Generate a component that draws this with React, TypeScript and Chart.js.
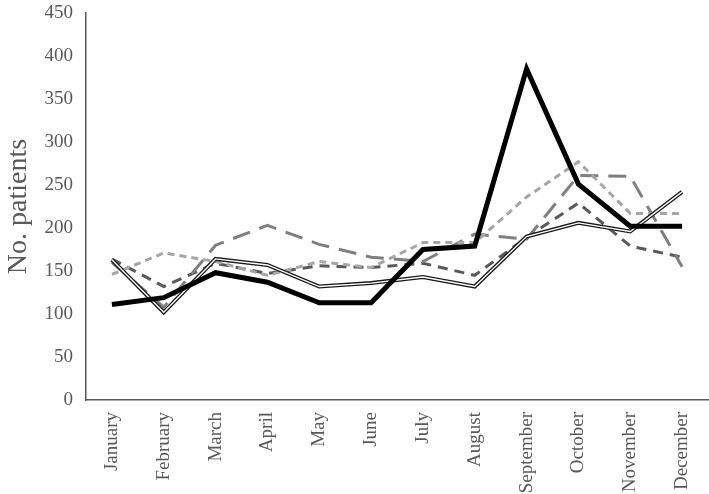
import React, { useEffect, useRef } from "react";
import { Chart, registerables } from "chart.js";

Chart.register(...registerables);

const months = ["January", "February", "March", "April", "May", "June", "July", "August", "September", "October", "November", "December"];
const seriesBlack = [111, 119, 148, 137, 113, 113, 175, 179, 385, 251, 202, 202];
const seriesDouble = [163, 102, 164, 157, 132, 136, 143, 132, 190, 206, 196, 242];
const seriesLightDash = [146, 171, 161, 145, 161, 154, 183, 183, 236, 277, 217, 217];
const seriesLongDash = [160, 108, 180, 203, 181, 166, 161, 193, 187, 261, 260, 155];
const seriesDarkDash = [164, 132, 159, 147, 156, 154, 159, 145, 189, 229, 179, 166];
const yTicks = [0, 50, 100, 150, 200, 250, 300, 350, 400, 450];

const FONT = "'Liberation Serif', 'Times New Roman', serif";

export default function App() {
  const ref = useRef<HTMLCanvasElement | null>(null);
  useEffect(() => {
    if (!ref.current) return;
    const chart = new Chart(ref.current, {
      type: "line",
      data: {
        labels: months,
        datasets: [
          { label: "A", data: seriesBlack, borderColor: "#000000", borderWidth: 5, pointRadius: 0, order: 0, borderJoinStyle: "miter" },
          { label: "B-inner", data: seriesDouble, borderColor: "#ffffff", borderWidth: 1.3, pointRadius: 0, order: 1 },
          { label: "B", data: seriesDouble, borderColor: "#1a1a1a", borderWidth: 4, pointRadius: 0, order: 2 },
          { label: "C", data: seriesLightDash, borderColor: "#a6a6a6", borderWidth: 3, borderDash: [7, 5], pointRadius: 0, order: 3 },
          { label: "D", data: seriesLongDash, borderColor: "#7f7f7f", borderWidth: 3, borderDash: [18, 10], pointRadius: 0, order: 4 },
          { label: "E", data: seriesDarkDash, borderColor: "#595959", borderWidth: 3, borderDash: [10, 7], pointRadius: 0, order: 5 },
        ],
      },
      options: {
        animation: false,
        responsive: false,
        maintainAspectRatio: false,
        layout: { padding: { top: 13, right: 1, left: 0, bottom: 0 } },
        plugins: { legend: { display: false }, tooltip: { enabled: false } },
        scales: {
          x: {
            offset: true,
            grid: { display: false, drawTicks: false, offset: true },
            border: { display: true, color: "#595959", width: 1.5 },
            afterFit: (s: any) => { s.height = 94; s.paddingRight = 0; s.paddingLeft = 0; },
            ticks: {
              color: "#595959",
              font: { family: FONT, size: 19 },
              maxRotation: 90,
              minRotation: 90,
              padding: 12,
              autoSkip: false,
            },
          },
          y: {
            min: 0,
            max: 450,
            afterBuildTicks: (axis: any) => {
              axis.ticks = yTicks.map((v) => ({ value: v }));
            },
            afterFit: (s: any) => { s.width = 86; s.paddingTop = 0; s.paddingBottom = 0; },
            grid: { display: false, drawTicks: false },
            border: { display: true, color: "#595959", width: 1.5 },
            ticks: {
              color: "#595959",
              font: { family: FONT, size: 19 },
              padding: 13,
            },
            title: {
              display: true,
              text: "No. patients",
              color: "#595959",
              font: { family: FONT, size: 28 },
              padding: { top: 2, bottom: 0 },
            },
          },
        },
      },
    });
    return () => chart.destroy();
  }, []);
  return (
    <div style={{ position: "absolute", left: 0, top: 0, width: 709, height: 494, background: "#fff" }}>
      <canvas ref={ref} width={709} height={494} style={{ width: 709, height: 494 }} />
    </div>
  );
}
